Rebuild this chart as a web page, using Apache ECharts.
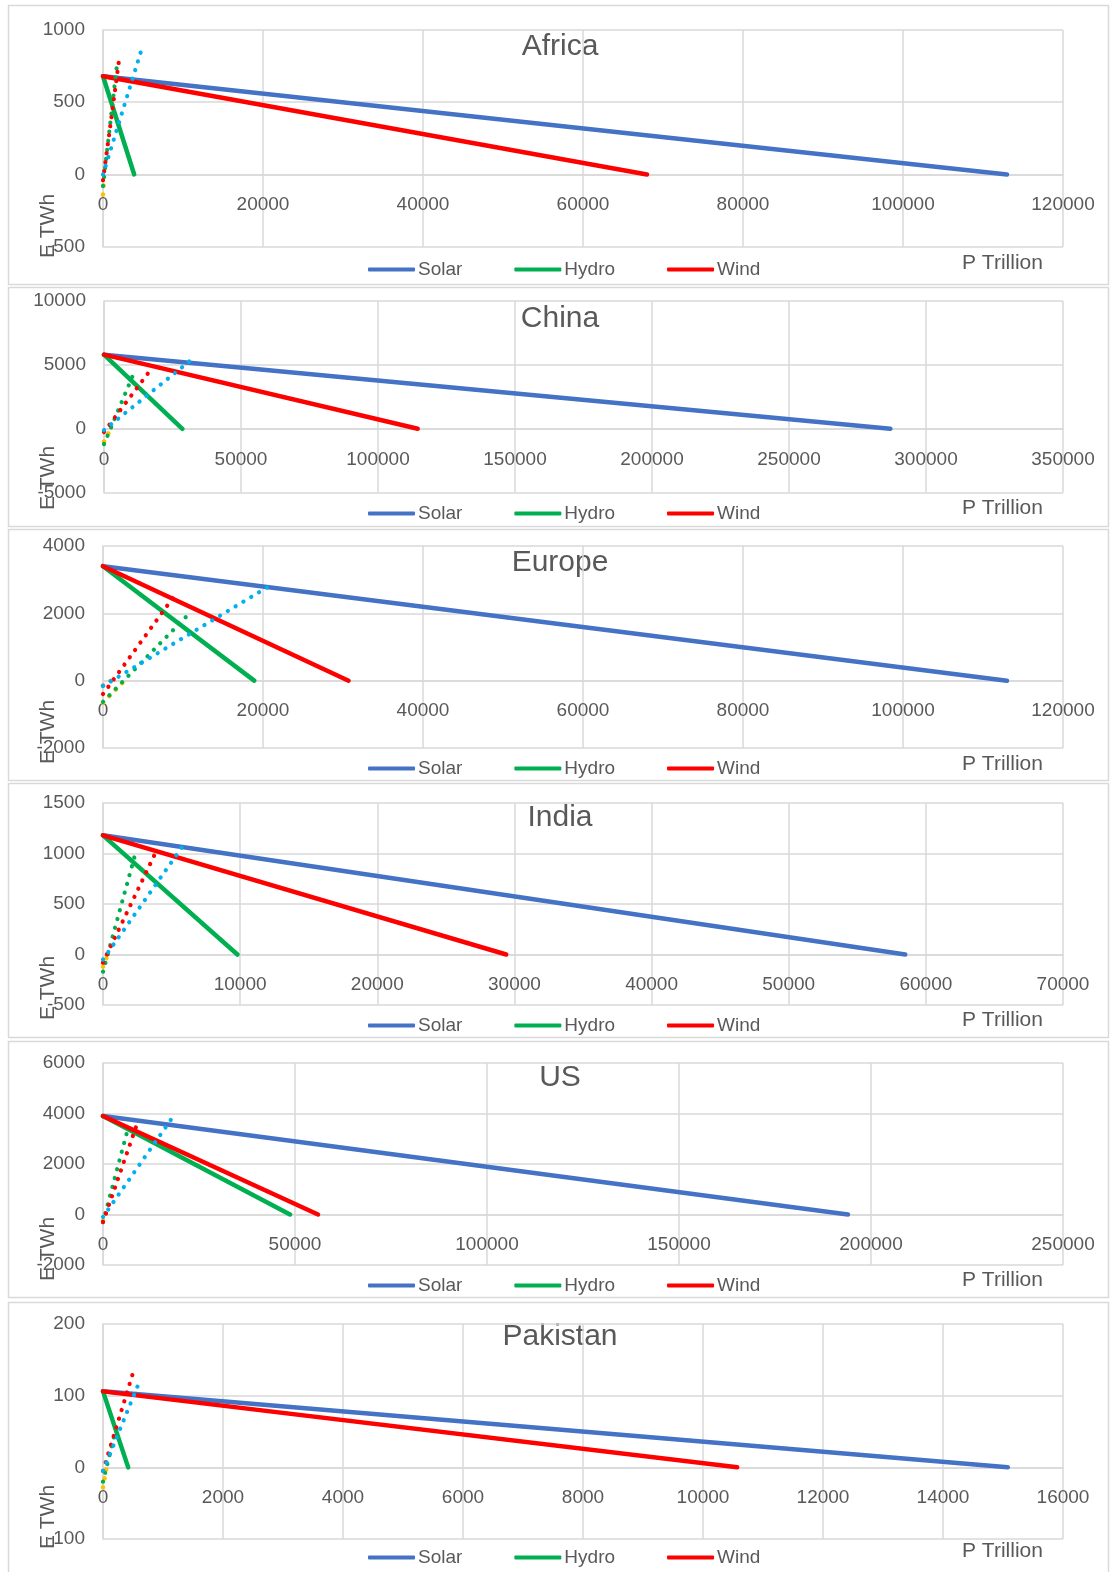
<!DOCTYPE html>
<html>
<head>
<meta charset="utf-8">
<script src="https://cdn.jsdelivr.net/npm/echarts@6/dist/echarts.min.js"></script>
<style>
html,body{margin:0;padding:0;background:#fff}
#chart{width:1110px;height:1572px}
</style>
</head>
<body>
<div id="chart"></div>
<script>
// Regions, one panel each
const regions = ['Africa', 'China', 'Europe', 'India', 'US', 'Pakistan'];
// Energy E (TWh) at P = 0, shared start of the three solid lines
const energyAtZero = [680, 5800, 3400, 1180, 3900, 106];
// P (trillion) at which each technology line reaches E = 0
const solarReach = [113000, 287000, 113000, 58500, 194000, 15080];
const hydroReach = [3900, 28600, 18900, 9800, 48700, 420];
const windReach = [68000, 114500, 30700, 29400, 56000, 10570];
// Dotted trend lines as [P, E] pairs
const solarTrend = [
  [[0, 0], [4900, 880]],
  [[0, -100], [31600, 5350]],
  [[0, -160], [21000, 2840]],
  [[0, -50], [5900, 1090]],
  [[0, -100], [18300, 3890]],
  [[0, -5], [600, 118]]
];
const windTrend = [
  [[0, -40], [2000, 790]],
  [[0, -250], [16200, 4390]],
  [[0, -400], [9070, 2570]],
  [[0, -80], [4000, 1056]],
  [[0, -300], [9200, 3730]],
  [[0, -5], [500, 132]]
];
const hydroTrend = [
  [[0, -80], [1700, 735]],
  [[0, -1200], [10700, 4260]],
  [[0, -630], [10600, 1950]],
  [[0, -170], [2320, 980]],
  [[0, -300], [6600, 3460]],
  [[0, -20], [220, 55]]
];
const baseTrend = [
  [[0, -140], [150, -30]],
  [[0, -1000], [2500, 0]],
  [[0, -650], [2700, 0]],
  [[0, -120], [300, -20]],
  [[0, -250], [300, 0]],
  [[0, -28], [60, 0]]
];
const offsetTrend = [null, null, [[0, -150], [1000, 0]], null, null, null];
// Axis ranges and tick steps
const yMin = [-500, -5000, -2000, -500, -2000, -100];
const yMax = [1000, 10000, 4000, 1500, 6000, 200];
const yStep = [500, 5000, 2000, 500, 2000, 100];
const xMax = [120000, 350000, 120000, 70000, 250000, 16000];
const xStep = [20000, 50000, 20000, 10000, 50000, 2000];
const legendNames = ['Solar', 'Hydro', 'Wind'];
const xTitle = 'P Trillion';
const yTitle = 'E TWh';

// Page layout (pixels)
const panelBox = [[8, 5, 1100, 279], [8, 287, 1100, 239], [8, 529, 1100, 251], [8, 783, 1100, 254], [8, 1041, 1100, 256], [8, 1302, 1100, 280]];
const plotBox = [[103, 30, 960, 216.7], [104, 301, 959, 191.7], [103, 546, 960, 202], [103, 803, 960, 202], [103, 1063, 960, 202], [103, 1324, 960, 215]];
const titleY = [47, 319, 563, 818, 1078, 1337];
const legendY = [269, 513, 768, 1025, 1285, 1557];
const xTitleY = [263, 508, 764, 1020, 1280, 1551];
const yTitleY = [226, 478, 732, 988, 1249, 1517];

const FONT = "'Liberation Sans', Arial, sans-serif";
const TXT = '#595959';
const GRID = '#D9D9D9';
const COLORS = { solar: '#4472C4', hydro: '#00B050', wind: '#FF0000', solarDot: '#00B0F0', baseDot: '#FFC000', offsetDot: '#ED7D31' };

const chart = echarts.init(document.getElementById('chart'), null, { renderer: 'canvas' });

const grid = [], xAxis = [], yAxis = [], series = [], legend = [], graphic = [];
const plain = v => String(v);

function solid(name, color, i, reach) {
  return {
    name, type: 'line', xAxisIndex: i, yAxisIndex: i,
    data: [[0, energyAtZero[i]], [reach, 0]],
    showSymbol: false, symbol: 'none', silent: true, z: 2,
    itemStyle: { color },
    lineStyle: { color, width: 4.5, cap: 'round' }
  };
}
function dotted(name, color, i, data, w) {
  return {
    name, type: 'line', xAxisIndex: i, yAxisIndex: i, data,
    showSymbol: false, symbol: 'none', silent: true, z: 3,
    itemStyle: { color },
    lineStyle: { color, width: w || 4.2, type: [0.1, 9], cap: 'round' }
  };
}

regions.forEach((reg, i) => {
  const [px, py, pw, ph] = panelBox[i];
  graphic.push({ type: 'rect', shape: { x: px + 0.5, y: py + 0.5, width: pw, height: ph }, style: { fill: 'none', stroke: GRID, lineWidth: 1.5 }, silent: true, z: -1 });

  const [gl, gt, gw, gh] = plotBox[i];
  grid.push({ left: gl, top: gt, width: gw, height: gh, containLabel: false });

  // horizontal axis sits on the E = 0 line, labels just below it
  const zeroShift = -gh * (0 - yMin[i]) / (yMax[i] - yMin[i]);
  xAxis.push({
    type: 'value', gridIndex: i, min: 0, max: xMax[i], interval: xStep[i],
    position: 'bottom', offset: zeroShift,
    axisLine: { show: true, onZero: false, lineStyle: { color: GRID, width: 1.5 } },
    axisTick: { show: false },
    axisLabel: { color: TXT, fontSize: 19, fontFamily: FONT, margin: 21, formatter: plain },
    splitLine: { show: true, lineStyle: { color: GRID, width: 1.5 } }
  });
  yAxis.push({
    type: 'value', gridIndex: i, min: yMin[i], max: yMax[i], interval: yStep[i],
    axisLine: { show: true, onZero: false, lineStyle: { color: GRID, width: 1.5 } },
    axisTick: { show: false },
    axisLabel: { color: TXT, fontSize: 19, fontFamily: FONT, margin: 18, formatter: plain },
    splitLine: { show: true, lineStyle: { color: GRID, width: 1.5 } }
  });

  series.push(solid('Solar', COLORS.solar, i, solarReach[i]));
  series.push(solid('Hydro', COLORS.hydro, i, hydroReach[i]));
  series.push(solid('Wind', COLORS.wind, i, windReach[i]));
  if (baseTrend[i]) series.push(dotted('base trend', COLORS.baseDot, i, baseTrend[i], 4.5));
  if (offsetTrend[i]) series.push(dotted('offset trend', COLORS.offsetDot, i, offsetTrend[i], 4.5));
  series.push(dotted('hydro trend', COLORS.hydro, i, hydroTrend[i]));
  series.push(dotted('wind trend', COLORS.wind, i, windTrend[i]));
  series.push(dotted('solar trend', COLORS.solarDot, i, solarTrend[i]));

  legend.push({
    data: legendNames, left: 368, top: legendY[i] - 9, padding: 0,
    icon: 'roundRect', itemWidth: 47, itemHeight: 4, itemGap: 52,
    selectedMode: false,
    textStyle: { color: TXT, fontSize: 19, fontFamily: FONT, padding: [0, 0, 0, -2] }
  });

  graphic.push({ type: 'text', x: 560, y: titleY[i], silent: true,
    style: { text: reg, fill: TXT, font: `30px ${FONT}`, textAlign: 'center', textVerticalAlign: 'middle' } });
  graphic.push({ type: 'text', x: 962, y: xTitleY[i], silent: true,
    style: { text: xTitle, fill: TXT, font: `21px ${FONT}`, textAlign: 'left', textVerticalAlign: 'middle' } });
  graphic.push({ type: 'text', x: 48, y: yTitleY[i], rotation: Math.PI / 2, silent: true,
    style: { text: yTitle, fill: TXT, font: `21px ${FONT}`, textAlign: 'center', textVerticalAlign: 'middle' } });
});

chart.setOption({
  animation: false,
  backgroundColor: '#fff',
  grid, xAxis, yAxis, series, legend, graphic
});
</script>
</body>
</html>
